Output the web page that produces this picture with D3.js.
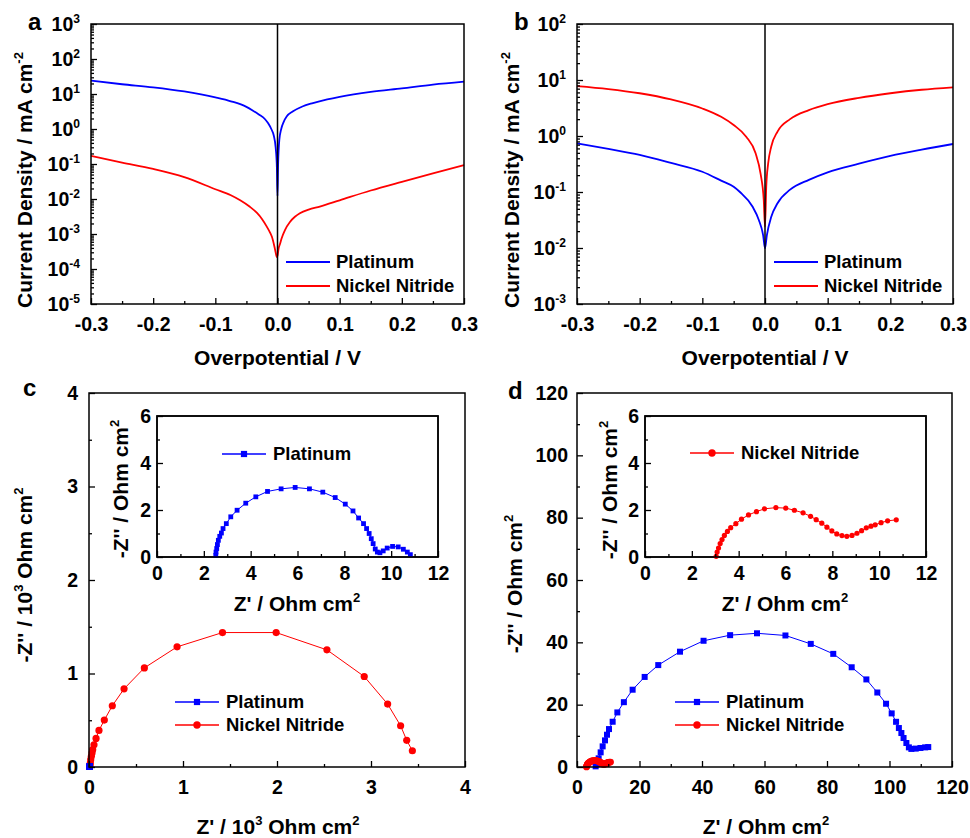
<!DOCTYPE html>
<html>
<head>
<meta charset="utf-8">
<script src="https://cdn.jsdelivr.net/npm/d3@7"></script>
<style>
body { margin: 0; background: #fff; }
text { font-family: "Liberation Sans", Arial, sans-serif; font-weight: bold; fill: #000; }
</style>
</head>
<body>
<script>
// ---- data ----

// a: Tafel, potential (V) / current density (mA cm^-2)
var aPtV = [-0.30,-0.25,-0.20,-0.15,-0.10,-0.075,-0.05,-0.04,-0.03,-0.02,-0.015,-0.01,-0.006,-0.003,-0.001,0,0.001,0.003,0.006,0.01,0.015,0.025,0.04,0.057,0.08,0.10,0.15,0.20,0.25,0.30];
var aPtJ = [24,19,15.5,11.8,8.0,6.2,4.3,3.4,2.6,1.9,1.45,1.0,0.65,0.3,0.08,0.012,0.1,0.5,1.0,1.6,2.3,3.2,4.4,5.5,7.0,8.3,11.5,14.5,18.5,22.5];
var aNiV = [-0.30,-0.25,-0.20,-0.15,-0.10,-0.075,-0.06,-0.045,-0.033,-0.025,-0.017,-0.012,-0.009,-0.005,-0.003,-0.001,0,0.002,0.004,0.0067,0.012,0.020,0.028,0.036,0.05,0.068,0.10,0.15,0.20,0.25,0.30];
var aNiJ = [0.17,0.11,0.072,0.042,0.019,0.0128,0.0092,0.0061,0.0040,0.0027,0.0016,0.0011,0.00083,0.00044,0.00030,0.00022,0.00024,0.00040,0.00052,0.00076,0.0013,0.0022,0.0031,0.0039,0.0050,0.0061,0.0092,0.0175,0.031,0.054,0.093];

// b: Tafel
var bPtV = [-0.30,-0.25,-0.20,-0.15,-0.10,-0.07,-0.05,-0.04,-0.02,-0.01,-0.003,0,0.003,0.01,0.02,0.04,0.07,0.10,0.15,0.20,0.25,0.30];
var bPtJ = [0.74,0.59,0.46,0.33,0.23,0.16,0.124,0.10,0.055,0.032,0.017,0.0099,0.017,0.036,0.063,0.11,0.165,0.225,0.32,0.44,0.57,0.72];
var bNiV = [-0.30,-0.25,-0.20,-0.15,-0.10,-0.07,-0.05,-0.03,-0.015,-0.007,-0.002,0,0.002,0.005,0.01,0.02,0.04,0.07,0.10,0.15,0.20,0.25,0.30];
var bNiJ = [7.8,6.9,5.8,4.5,3.1,2.2,1.57,0.97,0.49,0.21,0.072,0.024,0.125,0.32,0.65,1.2,2.0,2.9,3.7,4.8,5.8,6.7,7.4];

// c: Nyquist, platinum in Ohm cm2, nickel nitride in 10^3 Ohm cm2
var cPtRe = [2.51,2.52,2.55,2.58,2.62,2.68,2.75,2.82,2.96,3.15,3.42,3.79,4.22,4.72,5.30,5.90,6.51,7.08,7.61,8.04,8.37,8.61,8.82,8.95,9.06,9.15,9.23,9.32,9.41,9.52,9.66,9.83,10.06,10.30,10.52,10.69,10.82];
var cPtIm = [0.07,0.21,0.36,0.53,0.71,0.88,1.02,1.21,1.42,1.71,1.99,2.29,2.56,2.79,2.90,2.96,2.90,2.76,2.53,2.25,1.96,1.66,1.42,1.21,1.00,0.78,0.57,0.34,0.21,0.18,0.26,0.38,0.45,0.43,0.33,0.21,0.10];
var cNiRe = [0.011,0.014,0.018,0.025,0.032,0.039,0.053,0.075,0.106,0.163,0.248,0.373,0.589,0.937,1.420,1.991,2.531,2.928,3.177,3.315,3.38,3.44];
var cNiIm = [0.014,0.043,0.078,0.114,0.149,0.185,0.238,0.306,0.391,0.502,0.655,0.836,1.060,1.285,1.438,1.438,1.253,0.968,0.673,0.441,0.285,0.174];

// d: Nyquist, Ohm cm2
var dPtRe = [5.97,6.4,6.93,7.57,8.21,8.96,9.6,10.24,11.41,12.91,15.0,17.8,21.65,26.0,32.96,40.5,49.0,57.6,66.7,74.8,82.0,87.9,92.6,96.1,98.9,100.7,102.1,103.0,103.8,104.5,105.4,106.2,107.0,108.4,109.9,111.4,112.4];
var dPtIm = [0.21,0.96,2.78,4.70,6.62,8.54,10.36,12.17,14.52,17.51,20.8,24.8,28.9,32.7,37.0,40.5,42.3,42.9,42.2,39.5,36.3,32.0,28.1,23.9,20.3,17.2,14.5,12.5,10.9,9.3,7.7,6.3,5.8,5.9,6.1,6.3,6.4];
var dNiRe = [3.04,3.08,3.14,3.21,3.29,3.39,3.52,3.66,3.88,4.12,4.42,4.76,5.10,5.59,6.01,6.38,6.75,7.07,7.31,7.55,7.77,7.98,8.19,8.41,8.62,8.84,9.05,9.25,9.45,9.65,9.83,10.08,10.36,10.73];
var dNiIm = [0.03,0.21,0.38,0.57,0.74,0.92,1.09,1.25,1.42,1.61,1.79,1.93,2.05,2.10,2.08,1.99,1.88,1.73,1.59,1.44,1.27,1.11,0.98,0.91,0.88,0.92,1.01,1.12,1.24,1.31,1.37,1.46,1.54,1.58];

var potTicks = [-0.3,-0.2,-0.1,0,0.1,0.2,0.3];
var potMinor = [-0.25,-0.15,-0.05,0.05,0.15,0.25];
var names = ['Platinum', 'Nickel Nitride'];

var BLUE = '#0000ff', RED = '#ff0000';
var TICKFS = 19.5, TITLEFS = 21, LEGFS = 18.5;

var svg = d3.select('body').append('svg')
    .attr('width', 970)
    .attr('height', 838);
svg.append('rect').attr('width', 970).attr('height', 838).attr('fill', '#fff');

// text with ^{..} superscripts
function rich(t, str, fs) {
  t.text(null);
  var parts = str.split(/\^\{([^}]*)\}/);
  var up = false;
  parts.forEach(function(p, i) {
    if (i % 2 == 1) {
      t.append('tspan').attr('font-size', fs * 0.62).attr('dy', -fs * 0.42).text(p);
      up = true;
    } else if (p) {
      var s = t.append('tspan').text(p);
      if (up) { s.attr('dy', fs * 0.42); up = false; }
    }
  });
  return t;
}

function label(str, x, y, fs, anchor, rot) {
  var t = svg.append('text')
    .attr('font-size', fs)
    .attr('text-anchor', anchor || 'middle');
  if (rot) t.attr('transform', 'translate(' + x + ',' + y + ') rotate(-90)');
  else t.attr('x', x).attr('y', y);
  return rich(t, str, fs);
}

function frame(g, box, fill) {
  g.append('rect')
    .attr('x', box.l).attr('y', box.t)
    .attr('width', box.r - box.l).attr('height', box.b - box.t)
    .attr('fill', fill || 'none')
    .attr('stroke', '#000').attr('stroke-width', 1.5);
}

function styleAxis(a, fs) {
  a.select('.domain').remove();
  a.attr('font-family', null).attr('font-size', null);
  a.selectAll('line').attr('stroke', '#000').attr('stroke-width', 1.3);
  a.selectAll('text').attr('font-size', fs);
  return a;
}

// ---- Tafel panels ----
function tafel(box, dom, sets, letter, legX) {
  var x = d3.scaleLinear().domain([-0.3, 0.3]).range([box.l, box.r]);
  var y = d3.scaleLog().domain(dom).range([box.b, box.t]);
  var g = svg.append('g');

  var line = d3.line()
    .x(d => x(d[0]))
    .y(d => y(d[1]))
    .curve(d3.curveMonotoneX);
  sets.forEach(function(s) {
    g.append('path')
      .datum(d3.zip(s.v, s.j))
      .attr('fill', 'none')
      .attr('stroke', s.color)
      .attr('stroke-width', 1.8)
      .attr('d', line);
  });

  g.append('line')
    .attr('x1', x(0)).attr('x2', x(0))
    .attr('y1', box.t).attr('y2', box.b)
    .attr('stroke', '#000').attr('stroke-width', 1.5);

  styleAxis(g.append('g')
    .attr('transform', 'translate(0,' + box.b + ')')
    .call(d3.axisBottom(x).tickValues(potTicks).tickSize(-6).tickPadding(13)
      .tickFormat(d => d.toFixed(1))), TICKFS);
  styleAxis(g.append('g')
    .attr('transform', 'translate(0,' + box.b + ')')
    .call(d3.axisBottom(x).tickValues(potMinor).tickSize(-3).tickFormat('')), TICKFS);

  var lo = Math.round(Math.log10(dom[0])), hi = Math.round(Math.log10(dom[1]));
  var majors = d3.range(lo, hi + 1).map(e => Math.pow(10, e));
  var minors = [];
  majors.slice(0, -1).forEach(m => d3.range(2, 10).forEach(k => minors.push(m * k)));

  var ya = styleAxis(g.append('g')
    .attr('transform', 'translate(' + box.l + ',0)')
    .call(d3.axisLeft(y).tickValues(majors).tickSize(-6).tickPadding(11)), TICKFS);
  ya.selectAll('.tick text').each(function(d) {
    rich(d3.select(this), '10^{' + Math.round(Math.log10(d)) + '}', TICKFS);
  });
  styleAxis(g.append('g')
    .attr('transform', 'translate(' + box.l + ',0)')
    .call(d3.axisLeft(y).tickValues(minors).tickSize(-3).tickFormat('')), TICKFS);

  frame(g, box);

  // legend
  sets.forEach(function(s, i) {
    var ly = 262 + i * 24;
    g.append('line')
      .attr('x1', legX).attr('x2', legX + 44)
      .attr('y1', ly).attr('y2', ly)
      .attr('stroke', s.color).attr('stroke-width', 1.8);
    g.append('text')
      .attr('x', legX + 50).attr('y', ly).attr('dy', '0.35em')
      .attr('font-size', LEGFS)
      .text(s.name);
  });

  label(letter, box.l - 63, 30, 24, 'start');
  label('Overpotential / V', (box.l + box.r) / 2, 365, TITLEFS);
}

// ---- Nyquist panels ----
function marker(g, kind, cx, cy, sz, color) {
  if (kind == 'square') {
    g.append('rect')
      .attr('x', cx - sz / 2).attr('y', cy - sz / 2)
      .attr('width', sz).attr('height', sz)
      .attr('fill', color);
  } else {
    g.append('circle').attr('cx', cx).attr('cy', cy).attr('r', sz / 2).attr('fill', color);
  }
}

function nyq(g, box, xd, yd, step, pad, series) {
  var x = d3.scaleLinear().domain(xd).range([box.l, box.r]);
  var y = d3.scaleLinear().domain(yd).range([box.b, box.t]);

  var line = d3.line().x(d => x(d[0])).y(d => y(d[1]));
  series.forEach(function(s) {
    var pts = d3.zip(s.re, s.im);
    g.append('path')
      .datum(pts)
      .attr('fill', 'none')
      .attr('stroke', s.color)
      .attr('stroke-width', 1)
      .attr('d', line);
    pts.forEach(p => marker(g, s.kind, x(p[0]), y(p[1]), s.size, s.color));
  });

  var xt = d3.range(xd[0], xd[1] + step / 2, step);
  var fs = TICKFS;
  styleAxis(g.append('g')
    .attr('transform', 'translate(0,' + box.b + ')')
    .call(d3.axisBottom(x).tickValues(xt).tickSize(-6).tickPadding(pad.x).tickFormat(d3.format('d'))), fs);
  styleAxis(g.append('g')
    .attr('transform', 'translate(0,' + box.b + ')')
    .call(d3.axisBottom(x).tickValues(xt.slice(0, -1).map(v => v + step / 2)).tickSize(-3).tickFormat('')), fs);
  var yt = d3.range(yd[0], yd[1] + pad.ys / 2, pad.ys);
  styleAxis(g.append('g')
    .attr('transform', 'translate(' + box.l + ',0)')
    .call(d3.axisLeft(y).tickValues(yt).tickSize(-6).tickPadding(pad.y).tickFormat(d3.format('d'))), fs);
  styleAxis(g.append('g')
    .attr('transform', 'translate(' + box.l + ',0)')
    .call(d3.axisLeft(y).tickValues(yt.slice(0, -1).map(v => v + pad.ys / 2)).tickSize(-3).tickFormat('')), fs);
  frame(g, box);
}

function legendRow(g, x, y, kind, size, color, text) {
  g.append('line')
    .attr('x1', x).attr('x2', x + 44)
    .attr('y1', y).attr('y2', y)
    .attr('stroke', color).attr('stroke-width', 1.3);
  marker(g, kind, x + 22, y, size, color);
  g.append('text')
    .attr('x', x + 51).attr('y', y).attr('dy', '0.35em')
    .attr('font-size', LEGFS)
    .text(text);
}

// a
tafel({l: 91, r: 464, t: 24, b: 304}, [1e-5, 1e3], [
  {v: aPtV, j: aPtJ, color: BLUE, name: names[0]},
  {v: aNiV, j: aNiJ, color: RED, name: names[1]}
], 'a', 286);
label('Current Density / mA cm^{-2}', 32, 180, TITLEFS, 'middle', true);

// b
tafel({l: 577, r: 953, t: 24, b: 304}, [1e-3, 1e2], [
  {v: bPtV, j: bPtJ, color: BLUE, name: names[0]},
  {v: bNiV, j: bNiJ, color: RED, name: names[1]}
], 'b', 774);
label('Current Density / mA cm^{-2}', 519, 180, TITLEFS, 'middle', true);

// c
var gc = svg.append('g');
nyq(gc, {l: 89, r: 465, t: 393, b: 767}, [0, 4], [0, 4], 1, {x: 13, y: 11, ys: 1}, [
  {re: cNiRe, im: cNiIm, color: RED, kind: 'circle', size: 7.2},
  {re: cPtRe.map(v => v / 1000), im: cPtIm.map(v => v / 1000), color: BLUE, kind: 'square', size: 6}
]);
var gci = svg.append('g');
frame(gci, {l: 157, r: 438, t: 416, b: 557}, '#fff');
nyq(gci, {l: 157, r: 438, t: 416, b: 557}, [0, 12], [0, 6], 2, {x: 9, y: 6, ys: 2}, [
  {re: cPtRe, im: cPtIm, color: BLUE, kind: 'square', size: 4.8}
]);
legendRow(gc, 175, 702, 'square', 6.2, BLUE, names[0]);
legendRow(gc, 175, 725, 'circle', 7.4, RED, names[1]);
legendRow(gci, 222, 454, 'square', 6.2, BLUE, names[0]);
label('c', 23, 396, 24, 'start');
label("-Z'' / 10^{3} Ohm cm^{2}", 32, 575, TITLEFS, 'middle', true);
label("Z' / 10^{3} Ohm cm^{2}", 278, 834, TITLEFS);
label("-Z'' / Ohm cm^{2}", 128, 489, TITLEFS, 'middle', true);
label("Z' / Ohm cm^{2}", 297, 611, TITLEFS);

// d
var gd = svg.append('g');
nyq(gd, {l: 577, r: 952, t: 393, b: 767}, [0, 120], [0, 120], 20, {x: 13, y: 9, ys: 20}, [
  {re: dPtRe, im: dPtIm, color: BLUE, kind: 'square', size: 6},
  {re: dNiRe, im: dNiIm, color: RED, kind: 'circle', size: 6.8}
]);
var gdi = svg.append('g');
frame(gdi, {l: 645, r: 926, t: 416, b: 557}, '#fff');
nyq(gdi, {l: 645, r: 926, t: 416, b: 557}, [0, 12], [0, 6], 2, {x: 9, y: 6, ys: 2}, [
  {re: dNiRe, im: dNiIm, color: RED, kind: 'circle', size: 5.2}
]);
legendRow(gd, 675, 702, 'square', 6.2, BLUE, names[0]);
legendRow(gd, 675, 725, 'circle', 7.4, RED, names[1]);
legendRow(gdi, 690, 453, 'circle', 7.4, RED, names[1]);
label('d', 508, 399, 24, 'start');
label("-Z'' / Ohm cm^{2}", 522, 584, TITLEFS, 'middle', true);
label("Z' / Ohm cm^{2}", 766, 834, TITLEFS);
label("-Z'' / Ohm cm^{2}", 617, 490, TITLEFS, 'middle', true);
label("Z' / Ohm cm^{2}", 785, 611, TITLEFS);
</script>
</body>
</html>
